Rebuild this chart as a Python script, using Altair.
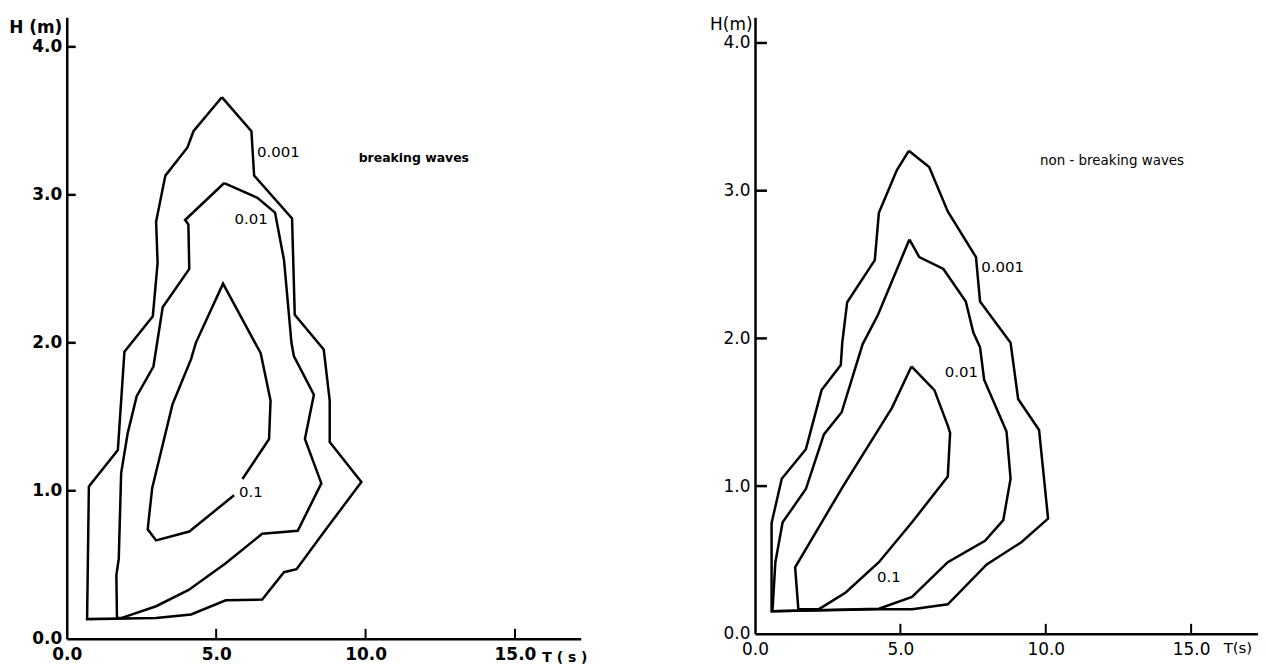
import altair as alt
import pandas as pd

# ---------------- data ----------------
# Left panel: breaking waves (T in s, H in m)
L_001_T = [5.19, 6.18, 6.27, 7.54, 7.63, 8.60, 8.80, 8.80, 9.86, 8.60, 7.69, 7.27, 6.54, 5.32, 4.16, 2.99, 0.68, 0.74, 1.71, 1.93, 2.88, 3.04, 2.99, 3.30, 4.04, 4.24, 5.19]
L_001_H = [3.66, 3.43, 3.13, 2.84, 2.19, 1.955, 1.61, 1.33, 1.06, 0.72, 0.47, 0.45, 0.265, 0.26, 0.164, 0.14, 0.133, 1.03, 1.275, 1.94, 2.18, 2.54, 2.82, 3.13, 3.32, 3.43, 3.66]

L_01_T = [5.27, 6.38, 6.97, 7.27, 7.52, 7.60, 8.27, 7.97, 8.52, 7.73, 6.54, 5.32, 4.08, 2.99, 1.82, 1.68, 1.66, 1.74, 1.82, 2.04, 2.34, 2.90, 3.21, 4.10, 4.07, 3.96, 5.27]
L_01_H = [3.08, 2.98, 2.88, 2.56, 2.00, 1.91, 1.65, 1.35, 1.05, 0.73, 0.71, 0.51, 0.33, 0.22, 0.14, 0.14, 0.43, 0.54, 1.12, 1.39, 1.64, 1.84, 2.24, 2.50, 2.80, 2.83, 3.08]

L_1_T = [5.60, 4.10, 2.99, 2.71, 2.74, 2.86, 3.54, 4.16, 4.32, 5.23, 6.49, 6.82, 6.77, 5.88]
L_1_H = [0.97, 0.725, 0.665, 0.74, 0.80, 1.02, 1.585, 1.89, 2.00, 2.40, 1.93, 1.61, 1.35, 1.08]

# Right panel: non-breaking waves
R_001_T = [5.29, 5.99, 6.63, 7.60, 7.74, 8.79, 9.05, 9.77, 10.08, 9.16, 7.97, 6.63, 5.40, 4.26, 0.57, 0.57, 0.92, 1.75, 2.29, 2.95, 3.00, 3.17, 4.12, 4.26, 4.88, 5.29]
R_001_H = [3.27, 3.16, 2.86, 2.55, 2.25, 1.97, 1.59, 1.38, 0.78, 0.62, 0.47, 0.20, 0.167, 0.167, 0.153, 0.75, 1.05, 1.25, 1.65, 1.82, 1.97, 2.245, 2.53, 2.85, 3.14, 3.27]

R_01_T = [5.31, 5.65, 6.48, 7.25, 7.51, 7.74, 7.88, 8.65, 8.79, 8.54, 7.91, 6.63, 5.40, 4.26, 0.60, 0.70, 0.95, 1.75, 2.37, 2.98, 3.70, 4.23, 5.31]
R_01_H = [2.67, 2.55, 2.47, 2.25, 2.04, 1.94, 1.72, 1.37, 1.05, 0.77, 0.63, 0.485, 0.25, 0.17, 0.153, 0.485, 0.755, 0.98, 1.35, 1.50, 1.96, 2.16, 2.67]

R_1_T = [5.38, 6.17, 6.63, 6.71, 6.63, 5.40, 4.26, 3.12, 2.20, 1.49, 1.38, 3.00, 4.71, 5.38]
R_1_H = [1.81, 1.65, 1.41, 1.36, 1.065, 0.755, 0.485, 0.28, 0.167, 0.167, 0.45, 0.99, 1.53, 1.81]

# contour labels
L_LAB_TEXT = ["0.001", "0.01", "0.1"]
L_LAB_T = [6.37, 6.17, 6.16]
L_LAB_H = [3.29, 2.84, 0.99]
L_LAB_ALIGN = ["left", "center", "center"]

R_LAB_TEXT = ["0.001", "0.01", "0.1"]
R_LAB_T = [7.78, 7.10, 4.60]
R_LAB_H = [2.48, 1.77, 0.385]
R_LAB_ALIGN = ["left", "center", "center"]

X_TICKS = [0, 5, 10, 15]
Y_TICKS = [0, 1, 2, 3, 4]
X_MARKS = [5, 10, 15]
Y_MARKS = [1, 2, 3, 4]


def contour_df(levels):
    rows = []
    for name, ts, hs in levels:
        for i, (t, h) in enumerate(zip(ts, hs)):
            rows.append({"level": name, "T": t, "H": h, "i": i})
    return pd.DataFrame(rows)


def panel(levels, lab_text, lab_t, lab_h, lab_align, note, note_t, note_h,
          width, height, xmax, ymax, weight, ytitle, ytitle_x, ytitle_y,
          xtitle, xtitle_x, xtitle_y, xtitle_size, ytick_len, xtick_len, note_size):
    xs = alt.Scale(domain=[0, xmax], nice=False, zero=False)
    ys = alt.Scale(domain=[0, ymax], nice=False, zero=False)
    common = dict(grid=False, ticks=False, domainColor="black", domainWidth=2.5,
                  labelColor="black", labelFont="DejaVu Sans", labelFontSize=17,
                  labelFontWeight=weight, labelFlush=False, labelOverlap=False,
                  titleColor="black", titleFont="DejaVu Sans", titleFontWeight=weight,
                  titleAngle=0, format=".1f")
    xaxis = alt.Axis(values=X_TICKS, title=xtitle, titleX=xtitle_x, titleY=xtitle_y,
                     titleAlign="left", titleBaseline="middle", titleFontSize=xtitle_size,
                     labelPadding=8, **common)
    yaxis = alt.Axis(values=Y_TICKS, title=ytitle, titleX=ytitle_x, titleY=ytitle_y,
                     titleAlign="right", titleBaseline="middle", titleFontSize=17,
                     labelPadding=5, **common)
    X = alt.X("T:Q", scale=xs, axis=xaxis)
    Y = alt.Y("H:Q", scale=ys, axis=yaxis)

    lines = alt.Chart(contour_df(levels)).mark_line(
        color="black", strokeWidth=2.5, strokeJoin="miter"
    ).encode(x=X, y=Y, detail="level:N", order="i:Q")

    labs = pd.DataFrame({"T": lab_t, "H": lab_h, "txt": lab_text, "al": lab_align})
    texts = []
    for al in ["left", "center"]:
        texts.append(
            alt.Chart(labs[labs["al"] == al]).mark_text(
                align=al, baseline="middle", font="DejaVu Sans", fontSize=15,
                color="black"
            ).encode(x=X, y=Y, text="txt:N")
        )

    note_df = pd.DataFrame({"T": [note_t], "H": [note_h], "txt": [note]})
    note_mark = alt.Chart(note_df).mark_text(
        align="left", baseline="middle", font="DejaVu Sans", fontSize=note_size,
        fontWeight=weight, color="black"
    ).encode(x=X, y=Y, text="txt:N")

    yt = alt.Chart(pd.DataFrame({"H": Y_MARKS})).mark_rule(
        color="black", strokeWidth=2.5
    ).encode(y=Y, x=alt.value(0), x2=alt.value(ytick_len))
    xt = alt.Chart(pd.DataFrame({"T": X_MARKS})).mark_rule(
        color="black", strokeWidth=2
    ).encode(x=X, y=alt.value(height), y2=alt.value(height - xtick_len))

    return alt.layer(lines, *texts, note_mark, yt, xt).properties(width=width, height=height)


left = panel(
    [("0.001", L_001_T, L_001_H), ("0.01", L_01_T, L_01_H), ("0.1", L_1_T, L_1_H)],
    L_LAB_TEXT, L_LAB_T, L_LAB_H, L_LAB_ALIGN,
    "breaking waves", 9.77, 3.25,
    width=516, height=624, xmax=17.2, ymax=4.2, weight="bold",
    ytitle="H (m)", ytitle_x=-5, ytitle_y=10,
    xtitle="T ( s )", xtitle_x=477, xtitle_y=19, xtitle_size=14,
    ytick_len=9, xtick_len=10, note_size=12.5,
)

right = panel(
    [("0.001", R_001_T, R_001_H), ("0.01", R_01_T, R_01_H), ("0.1", R_1_T, R_1_H)],
    R_LAB_TEXT, R_LAB_T, R_LAB_H, R_LAB_ALIGN,
    "non - breaking waves", 9.8, 3.2,
    width=505, height=619, xmax=17.3, ymax=4.174, weight="normal",
    ytitle="H(m)", ytitle_x=-3, ytitle_y=7,
    xtitle="T(s)", xtitle_x=470, xtitle_y=14, xtitle_size=15,
    ytick_len=12, xtick_len=10, note_size=13.5,
)

chart = alt.hconcat(left, right, spacing=175, bounds="flush").configure_view(
    stroke=None
).properties(padding={"left": 0, "top": 6, "right": 0, "bottom": 0})

chart.save("out.html", embed_options={"renderer": "svg", "actions": False})
